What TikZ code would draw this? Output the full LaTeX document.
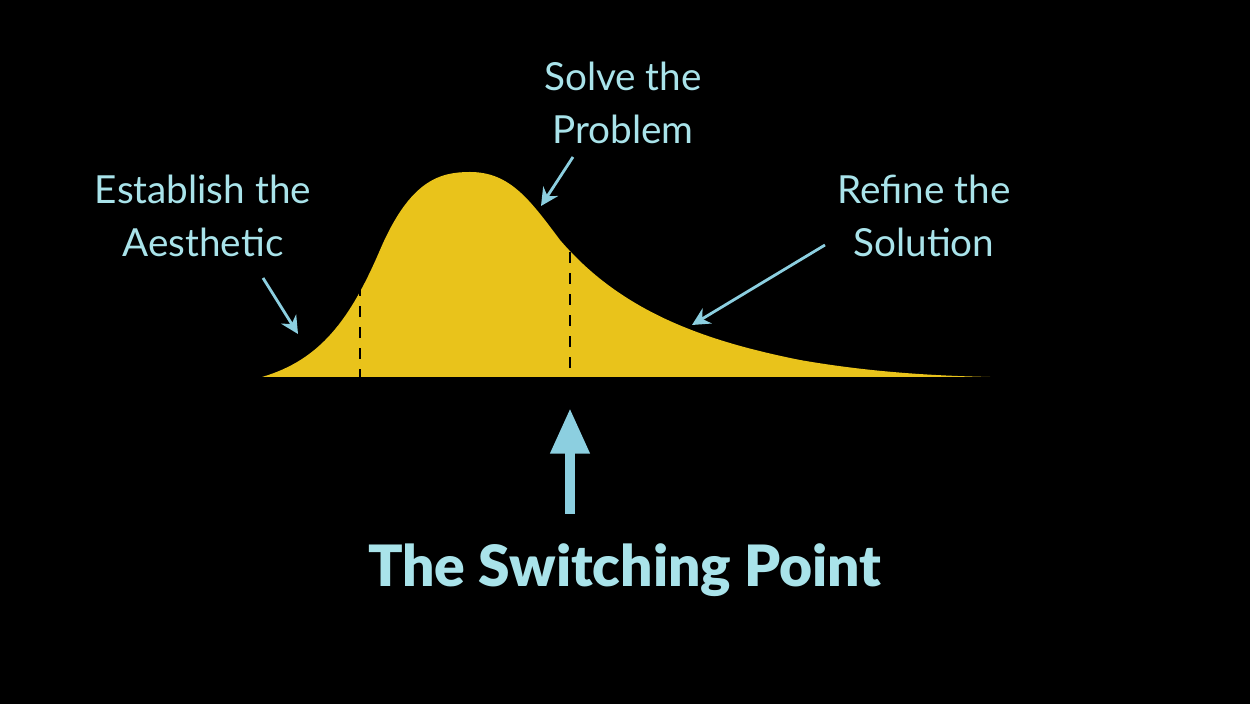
\documentclass[tikz,border=0pt]{standalone}
\usepackage{fontspec}
\setmainfont{Lato}
\usetikzlibrary{arrows.meta}
\definecolor{gold}{HTML}{E9C31B}
\definecolor{cyanT}{HTML}{A9E3EA}
\definecolor{cyanA}{HTML}{8CCFE0}
\tikzset{lbl/.style={text=cyanT,font=\fontsize{11}{15.2}\selectfont,align=center},
 thin arr/.style={draw=cyanA,line width=0.8pt,-{Stealth[length=5pt,width=5pt]}}}
\begin{document}
\begin{tikzpicture}[x=0.01cm,y=-0.01cm]
\fill[black] (0,0) rectangle (1250,704);
\useasboundingbox (0,0) rectangle (1250,704);
\fill[gold] (262,377) .. controls (320,360) and (350,320) .. (380,250)
 .. controls (410,180) and (440,172) .. (470,172)
 .. controls (510,172) and (530,200) .. (560,240)
 .. controls (620,310) and (700,340) .. (800,360)
 .. controls (880,374) and (950,376) .. (990,377) -- cycle;
\draw[black,dashed,line width=0.6pt] (360,285) -- (360,377);
\draw[black,dashed,line width=0.6pt] (570,252) -- (570,377);
\node[lbl] (aes) at (203,216) {Establish the\\Aesthetic};
\node[lbl] (sol) at (623,103) {Solve the\\Problem};
\node[lbl] (ref) at (924,216) {Refine the\\Solution};
\coordinate (a1) at (298,334); \coordinate (s1) at (541,206); \coordinate (r1) at (692,325);
\draw[thin arr] (263,278) -- (a1);
\draw[thin arr] (573,157) -- (s1);
\draw[thin arr] (825,245) -- (r1);
\node[text=cyanT,font=\fontsize{16.2}{18}\selectfont\fontspec{Lato Black}] (sw) at (625,570) {The Switching Point};
\coordinate (tip) at (570,408);
\draw[draw=cyanA,line width=3pt,-{Triangle[length=13pt,width=10.5pt]}] (570,514) -- (tip);
\end{tikzpicture}
\end{document}
